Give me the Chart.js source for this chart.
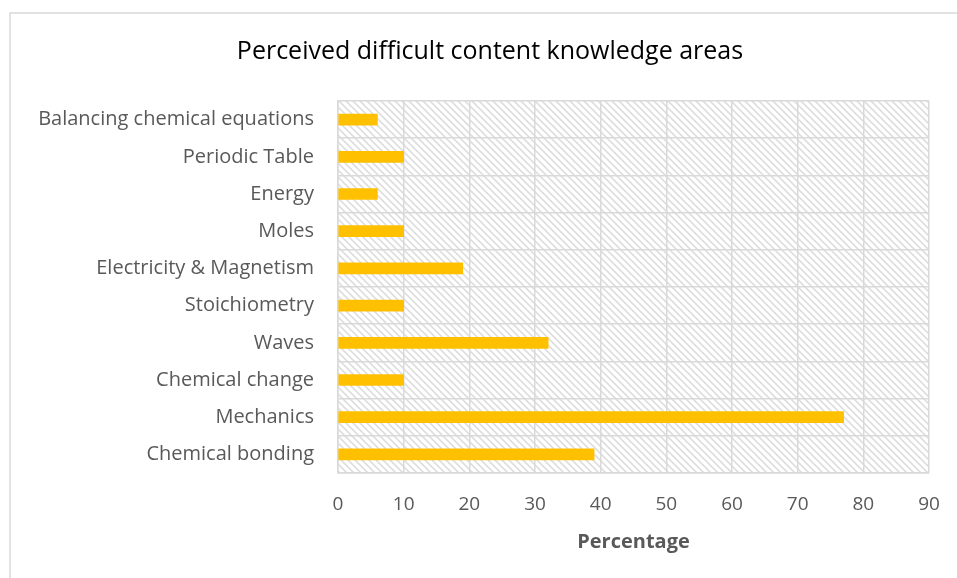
<!DOCTYPE html>
<html>
<head>
<meta charset="utf-8">
<script src="https://cdn.jsdelivr.net/npm/chart.js@4/dist/chart.umd.min.js"></script>
<style>
  html, body { margin: 0; padding: 0; background: #fff; }
  #wrap { width: 957px; height: 578px; position: relative; }
</style>
</head>
<body>
<div id="wrap"><canvas id="dataChart" width="957" height="578"></canvas></div>
<script>
// Categories listed top to bottom as they appear in the chart
var areas = ['Balancing chemical equations', 'Periodic Table', 'Energy', 'Moles',
             'Electricity & Magnetism', 'Stoichiometry', 'Waves', 'Chemical change',
             'Mechanics', 'Chemical bonding'];
var percentages = [6, 10, 6, 10, 19, 10, 32, 10, 77, 39];
var xTicks = [0, 10, 20, 30, 40, 50, 60, 70, 80, 90];
var chartTitle = 'Perceived difficult content knowledge areas';

var FONT = '"Open Sans", Lato, sans-serif';
var GRID = '#d9d9d9';

// Diagonal hatch used behind the bars (like the Excel pattern fill)
function makeHatch(ctx) {
    var c = document.createElement('canvas');
    c.width = 7; c.height = 7;
    var p = c.getContext('2d');
    p.strokeStyle = '#dedede';
    p.lineWidth = 1.6;
    p.beginPath();
    p.moveTo(-1, -1); p.lineTo(8, 8);
    p.moveTo(-8, -1); p.lineTo(1, 8);
    p.moveTo(6, -1); p.lineTo(15, 8);
    p.stroke();
    return ctx.createPattern(c, 'repeat');
}

var backdrop = {
    id: 'backdrop',
    beforeDraw: function(chart) {
        var ctx = chart.ctx, a = chart.chartArea;
        ctx.save();
        // outer frame of the chart object (only left and top are in view)
        ctx.strokeStyle = GRID;
        ctx.lineWidth = 1.5;
        ctx.beginPath();
        ctx.moveTo(10, chart.height);
        ctx.lineTo(10, 13);
        ctx.lineTo(chart.width, 13);
        ctx.stroke();
        // hatched plot area
        ctx.fillStyle = makeHatch(ctx);
        ctx.fillRect(a.left, a.top, a.right - a.left, a.bottom - a.top);
        // title, centred on the whole chart object
        ctx.fillStyle = '#000';
        ctx.font = '25px ' + FONT;
        ctx.textAlign = 'center';
        ctx.textBaseline = 'middle';
        ctx.fillText(chartTitle, 490, 52);
        ctx.restore();
    }
};

var ctx = document.getElementById('dataChart').getContext('2d');
window.myChart = new Chart(ctx, {
    type: 'bar',
    data: {
        labels: areas,
        datasets: [{
            label: 'Percentage',
            data: percentages,
            backgroundColor: '#FFC000',
            borderWidth: 0,
            barThickness: 11
        }]
    },
    options: {
        indexAxis: 'y',
        responsive: false,
        animation: false,
        layout: { padding: { top: 101, right: 28, bottom: 0, left: 0 } },
        plugins: {
            legend: { display: false },
            tooltip: { enabled: false },
            title: { display: false }
        },
        scales: {
            x: {
                min: 0,
                max: 90,
                afterBuildTicks: function(scale) {
                    scale.ticks = xTicks.map(function(v) { return { value: v }; });
                },
                afterFit: function(scale) {
                    scale.height = 105;
                    scale.paddingLeft = 0;
                    scale.paddingRight = 0;
                },
                grid: { color: GRID, lineWidth: 1.5, drawTicks: false },
                border: { color: GRID, width: 1.5 },
                ticks: { color: '#595959', padding: 20, font: { family: FONT, size: 19 } },
                title: {
                    display: true,
                    text: 'Percentage',
                    color: '#595959',
                    font: { family: FONT, size: 20, weight: 'bold' },
                    padding: { top: 0, bottom: 24 }
                }
            },
            y: {
                afterFit: function(scale) {
                    scale.width = 338;
                    scale.paddingTop = 0;
                    scale.paddingBottom = 0;
                },
                grid: { color: GRID, lineWidth: 1.5, drawTicks: false },
                border: { color: GRID, width: 1.5 },
                ticks: { color: '#595959', padding: 24, font: { family: FONT, size: 20 } }
            }
        }
    },
    plugins: [backdrop]
});
</script>
</body>
</html>
